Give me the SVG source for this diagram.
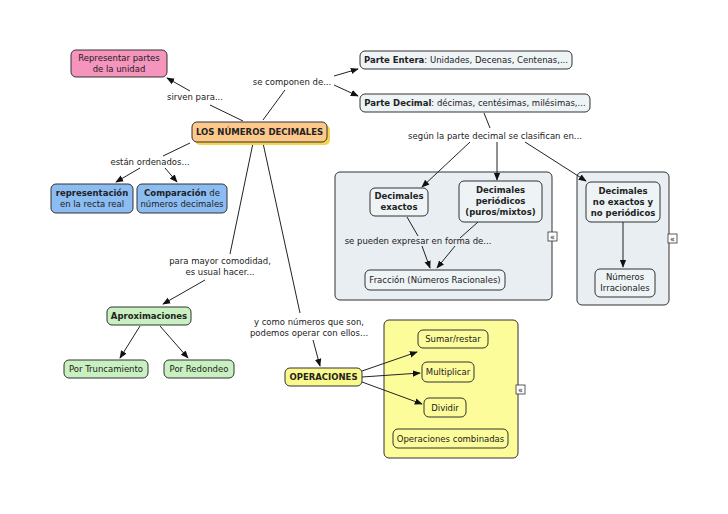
<svg xmlns="http://www.w3.org/2000/svg" width="728" height="514" viewBox="0 0 728 514">
<defs>
<marker id="a" viewBox="0 0 10 10" refX="9" refY="5" markerWidth="8" markerHeight="8" orient="auto"><path d="M0,1 L10,5 L0,9 z" fill="#111"/></marker>
<style>
text{font-family:"DejaVu Sans",Verdana,sans-serif;font-size:8.5px;fill:#222;text-anchor:middle}
.b{font-weight:bold}
rect{stroke:#333;stroke-width:1}
.n{rx:5}
line,polyline{stroke:#222;stroke-width:1;fill:none}
.ar{marker-end:url(#a)}
.ic{fill:#fff;stroke:#333;stroke-width:0.8}
</style>
</defs>
<rect width="728" height="514" style="fill:#fff;stroke:none"/>
<g id="grp1"><rect x="335" y="172" width="217" height="128" rx="5" fill="#e8eef1" stroke="#444"/><rect class="ic" x="548" y="232" width="9" height="9"/><text x="552.5" y="240" style="font-size:8px">«</text></g>
<g id="grp2"><rect x="577" y="172" width="92" height="133" rx="5" fill="#e8eef1" stroke="#444"/><rect class="ic" x="668" y="234" width="9" height="9"/><text x="672.5" y="242" style="font-size:8px">«</text></g>
<g id="grp3"><rect x="384" y="320" width="134" height="138" rx="5" fill="#fcfc9a" stroke="#444"/><rect class="ic" x="516" y="385" width="9" height="9"/><text x="520.5" y="393" style="font-size:8px">«</text></g>
<g id="connectors">
<line x1="243" y1="121" x2="210" y2="105"/><line class="ar" x1="190" y1="91" x2="167" y2="78"/>
<line x1="263" y1="120" x2="285" y2="90"/><line class="ar" x1="334" y1="76" x2="358" y2="69"/><line class="ar" x1="334" y1="85" x2="358" y2="96"/>
<line x1="190" y1="143" x2="163" y2="156"/><line class="ar" x1="140" y1="168" x2="116" y2="182"/><line class="ar" x1="165" y1="168" x2="177" y2="182"/>
<line x1="253" y1="143" x2="230" y2="254"/><line class="ar" x1="205" y1="280" x2="163" y2="304"/>
<line x1="263" y1="143" x2="300" y2="313"/><line class="ar" x1="313" y1="340" x2="320" y2="366"/>
<line class="ar" x1="140" y1="326" x2="120" y2="358"/><line class="ar" x1="160" y1="326" x2="188" y2="358"/>
<line x1="484" y1="113" x2="490" y2="128"/>
<line class="ar" x1="470" y1="142" x2="422" y2="187"/><line class="ar" x1="497" y1="142" x2="497" y2="180"/><line class="ar" x1="525" y1="142" x2="586" y2="181"/>
<line x1="407" y1="217" x2="418" y2="236"/><line class="ar" x1="422" y1="246" x2="430" y2="268"/>
<line x1="478" y1="222" x2="460" y2="238"/><line class="ar" x1="455" y1="246" x2="437" y2="268"/>
<line class="ar" x1="623" y1="222" x2="623" y2="267"/>
<line class="ar" x1="362" y1="371" x2="417" y2="352"/><line class="ar" x1="362" y1="377" x2="420" y2="373"/><line class="ar" x1="362" y1="382" x2="422" y2="404"/>
</g>
<g id="labels">
<text x="195" y="100">sirven para...</text>
<text x="292" y="85">se componen de...</text>
<text x="150" y="165">están ordenados...</text>
<text x="495" y="139">según la parte decimal se clasifican en...</text>
<text x="418" y="244">se pueden expresar en forma de...</text>
<text x="220" y="264">para mayor comodidad,</text><text x="220" y="275">es usual hacer...</text>
<text x="309" y="325">y como números que son,</text><text x="309" y="336">podemos operar con ellos...</text>
</g>
<g id="representar"><rect class="n" x="71" y="50" width="96" height="27" fill="#f594bd"/><text x="119" y="61">Representar partes</text><text x="119" y="72">de la unidad</text></g>
<g id="main"><rect class="n" x="195" y="125" width="135" height="20" style="fill:#f5d34a;stroke:none"/><rect class="n" x="192" y="122" width="135" height="20" fill="#fcc88c"/><text class="b" x="259.5" y="135">LOS NÚMEROS DECIMALES</text></g>
<g id="entera"><rect class="n" x="360" y="51" width="212" height="18" fill="#eef3f6"/><text x="466" y="63"><tspan class="b">Parte Entera</tspan>: Unidades, Decenas, Centenas,...</text></g>
<g id="decimal"><rect class="n" x="360" y="94" width="230" height="18" fill="#eef3f6"/><text x="475" y="106"><tspan class="b">Parte Decimal</tspan>: décimas, centésimas, milésimas,...</text></g>
<g id="recta"><rect class="n" x="51" y="184" width="82" height="29" fill="#8bbcf2"/><text class="b" x="92" y="196">representación</text><text x="92" y="207">en la recta real</text></g>
<g id="comparacion"><rect class="n" x="137" y="184" width="90" height="29" fill="#8bbcf2"/><text x="182" y="196"><tspan class="b">Comparación</tspan> de</text><text x="182" y="207">números decimales</text></g>
<g id="exactos"><rect class="n" x="370" y="188" width="58" height="28" fill="#eef3f6"/><text class="b" x="399" y="199">Decimales</text><text class="b" x="399" y="210">exactos</text></g>
<g id="periodicos"><rect class="n" x="459" y="181" width="83" height="41" fill="#eef3f6"/><text class="b" x="500.5" y="193">Decimales</text><text class="b" x="500.5" y="204">periódicos</text><text class="b" x="500.5" y="215">(puros/mixtos)</text></g>
<g id="fraccion"><rect class="n" x="365" y="270" width="140" height="20" fill="#eef3f6"/><text x="435" y="283">Fracción (Números Racionales)</text></g>
<g id="noexactos"><rect class="n" x="586" y="182" width="74" height="40" fill="#eef3f6"/><text class="b" x="623" y="194">Decimales</text><text class="b" x="623" y="205">no exactos y</text><text class="b" x="623" y="216">no periódicos</text></g>
<g id="irracionales"><rect class="n" x="595" y="269" width="60" height="28" fill="#eef3f6"/><text x="625" y="280">Números</text><text x="625" y="291">Irracionales</text></g>
<g id="aprox"><rect class="n" x="107" y="307" width="84" height="18" fill="#c8f0c0"/><text class="b" x="149" y="319">Aproximaciones</text></g>
<g id="trunc"><rect class="n" x="64" y="360" width="84" height="18" fill="#c8f0c0"/><text x="106" y="372">Por Truncamiento</text></g>
<g id="redondeo"><rect class="n" x="164" y="360" width="70" height="18" fill="#c8f0c0"/><text x="199" y="372">Por Redondeo</text></g>
<g id="operaciones"><rect class="n" x="285" y="368" width="77" height="18" fill="#fafa8c"/><text class="b" x="323.5" y="380">OPERACIONES</text></g>
<g id="sumar"><rect class="n" x="418" y="330" width="70" height="18" fill="#fcfc9a"/><text x="453" y="342">Sumar/restar</text></g>
<g id="multiplicar"><rect class="n" x="422" y="362" width="52" height="20" fill="#fcfc9a"/><text x="448" y="375">Multiplicar</text></g>
<g id="dividir"><rect class="n" x="424" y="398" width="42" height="19" fill="#fcfc9a"/><text x="445" y="411">Dividir</text></g>
<g id="combinadas"><rect class="n" x="393" y="429" width="115" height="19" fill="#fcfc9a"/><text x="450.5" y="442">Operaciones combinadas</text></g>
</svg>
